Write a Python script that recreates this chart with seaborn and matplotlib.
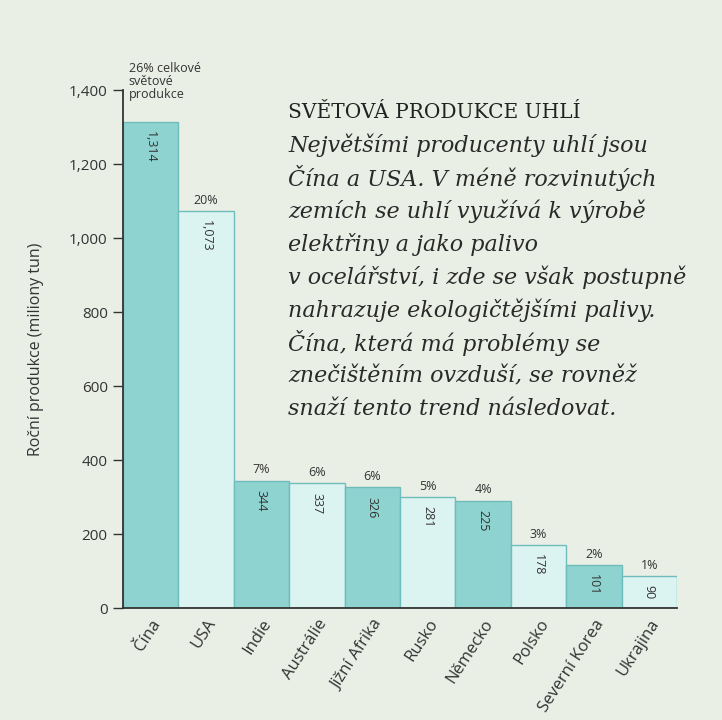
import matplotlib
matplotlib.use("Agg")
import matplotlib.pyplot as plt
import seaborn as sns
import pandas as pd

countries = ["Čína", "USA", "Indie", "Austrálie", "Jižní Afrika", "Rusko",
             "Německo", "Polsko", "Severní Korea", "Ukrajina"]
bar_heights = [1314, 1073, 344, 337, 326, 300, 290, 170, 116, 86]
value_labels = ["1,314", "1,073", "344", "337", "326", "281", "225", "178", "101", "90"]
share_labels = ["", "20%", "7%", "6%", "6%", "5%", "4%", "3%", "2%", "1%"]
china_note = "26% celkové\nsvětové\nprodukce"
y_ticks = [0, 200, 400, 600, 800, 1000, 1200, 1400]
y_label = "Roční produkce (miliony tun)"
title = "SVĚTOVÁ PRODUKCE UHLÍ"
body_lines = [
    "Největšími producenty uhlí jsou",
    "Čína a USA. V méně rozvinutých",
    "zemích se uhlí využívá k výrobě",
    "elektřiny a jako palivo",
    "v ocelářství, i zde se však postupně",
    "nahrazuje ekologičtějšími palivy.",
    "Čína, která má problémy se",
    "znečištěním ovzduší, se rovněž",
    "snaží tento trend následovat.",
]

BG = "#eaefe6"
DARK = "#8fd3d1"
LIGHT = "#dcf4f1"
EDGE = "#6fbcbc"

sns.set_theme(style="white")
plt.rcParams["font.family"] = ["Open Sans", "DejaVu Sans"]

df = pd.DataFrame({"country": countries, "value": bar_heights})
palette = {c: (DARK if i % 2 == 0 else LIGHT) for i, c in enumerate(countries)}

fig = plt.figure(figsize=(7.22, 7.20), dpi=100, facecolor=BG)
ax = fig.add_axes([123 / 722, 1 - 608 / 720, 554 / 722, 518 / 720])
ax.set_facecolor(BG)

sns.barplot(data=df, x="country", y="value", hue="country", palette=palette,
            width=1.0, edgecolor=EDGE, linewidth=1.0, legend=False, ax=ax,
            saturation=1)

ax.set_xlim(-0.5, len(countries) - 0.5)
ax.set_ylim(0, 1400)
ax.set_yticks(y_ticks)
ax.set_yticklabels([f"{t:,}" for t in y_ticks], fontsize=11, color="#333333")
ax.tick_params(axis="y", direction="out", length=7, width=1, color="#333333",
               left=True, pad=4)
ax.tick_params(axis="x", length=0, pad=6)
ax.set_xticks(range(len(countries)))
ax.set_xticklabels(countries, rotation=57, ha="right", rotation_mode="anchor",
                   fontsize=12, color="#333333")
ax.set_xlabel("")
ax.set_ylabel(y_label, fontsize=11.5, color="#333333", labelpad=18)

for s in ["top", "right"]:
    ax.spines[s].set_visible(False)
for s in ["left", "bottom"]:
    ax.spines[s].set_color("#333333")
    ax.spines[s].set_linewidth(1.3)

for i, (h, v, p) in enumerate(zip(bar_heights, value_labels, share_labels)):
    ax.text(i, h - 25, v, rotation=270, ha="center", va="top", fontsize=9,
            color="#333333")
    if p:
        ax.text(i, h + 12, p, ha="center", va="bottom", fontsize=9,
                color="#333333")

ax.text(-0.4, bar_heights[0] + 55, china_note, ha="left", va="bottom",
        fontsize=9, color="#333333", linespacing=1.0)

fig.text(288 / 722, 1 - 112 / 720, title, ha="left", va="center",
         fontsize=14.5, family="DejaVu Serif", color="#222222")
for k, line in enumerate(body_lines):
    fig.text(288 / 722, 1 - (145 + 33 * k) / 720, line, ha="left", va="center",
             fontsize=16, family="DejaVu Serif", style="italic",
             color="#2a2a2a")

fig.savefig("out.png", dpi=100, facecolor=BG)
